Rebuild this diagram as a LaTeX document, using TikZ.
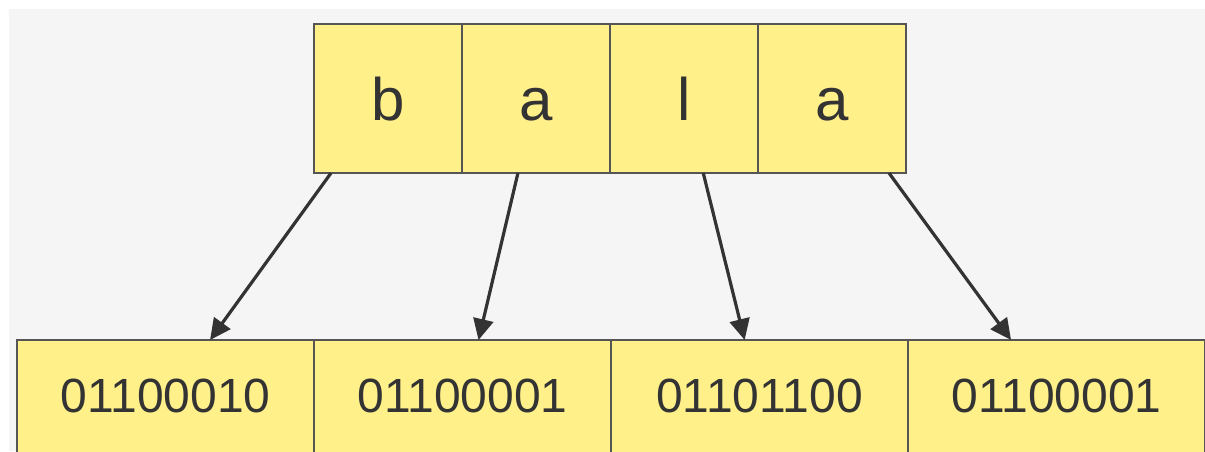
\documentclass[tikz,border=0pt]{standalone}
\usepackage{fontspec}
\setmainfont{Liberation Sans}
\usetikzlibrary{arrows.meta,calc,positioning}
\definecolor{cellfill}{HTML}{FFF08A}
\definecolor{bggray}{HTML}{F5F5F5}
\definecolor{ink}{HTML}{333333}
\definecolor{edge}{HTML}{555555}

\begin{document}
\begin{tikzpicture}[x=1pt, y=-1pt,
  cell/.style={rectangle, draw=edge, line width=2.2pt, fill=cellfill, inner sep=0pt, outer sep=0pt, text=ink},
  letter/.style={cell, minimum width=148pt, text height=96pt, text depth=53pt, font=\fontsize{60}{60}\selectfont},
  byte/.style={cell, minimum width=297pt, text height=72pt, text depth=58pt, font=\fontsize{48}{48}\selectfont},
  link/.style={ink, line width=3.2pt, -{Triangle[length=21pt,width=20pt]}}
  ]
  \useasboundingbox (0,0) rectangle (1205,451);
  \clip (0,0) rectangle (1205,451);
  \fill[bggray] (9,9) rectangle (1205,451);

  \node[letter, anchor=north west] (L1) at (314,24) {b};
  \node[letter, right=0pt of L1] (L2) {a};
  \node[letter, right=0pt of L2] (L3) {l};
  \node[letter, right=0pt of L3] (L4) {a};

  \node[byte, anchor=north west] (B1) at (17,340) {01100010};
  \node[byte, right=0pt of B1] (B2) {01100001};
  \node[byte, right=0pt of B2] (B3) {01101100};
  \node[byte, right=0pt of B3] (B4) {01100001};

  \draw[link] ($(L1.south west)!0.115!(L1.south east)$) -- ($(B1.north west)!0.65!(B1.north east)$);
  \draw[link] ($(L2.south west)!0.378!(L2.south east)$) -- ($(B2.north west)!0.554!(B2.north east)$);
  \draw[link] ($(L3.south west)!0.63!(L3.south east)$) -- ($(B3.north west)!0.45!(B3.north east)$);
  \draw[link] ($(L4.south west)!0.885!(L4.south east)$) -- ($(B4.north west)!0.347!(B4.north east)$);
\end{tikzpicture}
\end{document}
